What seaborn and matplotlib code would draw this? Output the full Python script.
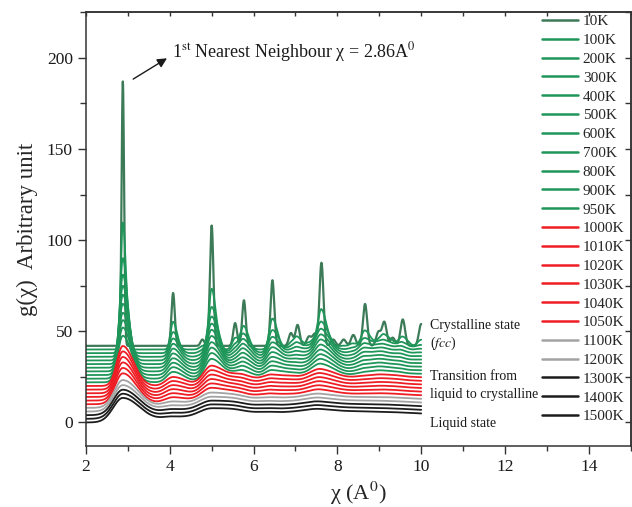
import numpy as np
import pandas as pd
import matplotlib
matplotlib.use("Agg")
import matplotlib.pyplot as plt
from matplotlib.lines import Line2D
from matplotlib.ticker import MultipleLocator
import seaborn as sns

# ---------------- data ----------------
temps = ["10K", "100K", "200K", "300K", "400K", "500K", "600K", "700K", "800K",
         "900K", "950K", "1000K", "1010K", "1020K", "1030K", "1040K", "1050K",
         "1100K", "1200K", "1300K", "1400K", "1500K"]
# vertical shift of every curve (baseline at small distance)
offsets = [42, 40, 38, 36, 34, 32, 30, 28, 26, 24, 22,
           20, 18, 16, 14, 12, 10, 8, 6, 4, 2, 0]
# thermal broadening (A) of each curve, read from its first-peak height
broadening = [0.0, 0.07, 0.10, 0.118, 0.131, 0.142, 0.155, 0.17, 0.182, 0.196, 0.216,
              0.253, 0.265, 0.279, 0.294, 0.311, 0.329,
              0.366, 0.386, 0.40, 0.406, 0.415]
groups = ["10K"] + ["green"] * 10 + ["red"] * 6 + ["gray"] * 2 + ["black"] * 3

# neighbour shells of the 10K (crystalline) curve: position, height above baseline, width
peak_pos = [2.88, 4.08, 4.78, 5.00, 5.56, 5.77, 6.45, 6.89, 7.05, 7.32, 7.46, 7.62,
            7.90, 8.15, 8.38, 8.66, 8.98, 9.12, 9.32, 9.56, 10.00, 10.35, 10.72]
peak_height = [145, 29, 3.5, 66, 12.5, 25, 36, 7, 11.5, 5, 6.5, 45.5,
               3.5, 3.5, 6, 23, 7.5, 13, 4.5, 14.5, 12, 14, 10]
peak_width = [0.030, 0.040, 0.045, 0.042, 0.045, 0.043, 0.045, 0.05, 0.05, 0.055, 0.055, 0.047,
              0.055, 0.055, 0.055, 0.05, 0.055, 0.055, 0.055, 0.055, 0.055, 0.055, 0.055]

r_min, r_max = 2.0, 10.0

# ---------------- build curves ----------------
r = np.linspace(r_min, r_max, 1601)


def curve(s):
    y = np.zeros_like(r)
    for p, h, w in zip(peak_pos, peak_height, peak_width):
        sk = s * (1 + 0.15 * (p - peak_pos[0]))   # farther shells broaden more
        wl = np.sqrt(w ** 2 + (0.55 * sk) ** 2)
        wr = np.sqrt(w ** 2 + sk ** 2)
        amp = h * 2 * w / (wl + wr)
        ww = np.where(r < p, wl, wr)
        y += amp * np.exp(-0.5 * ((r - p) / ww) ** 2)
    return y


frames = []
for t, off, s in zip(temps, offsets, broadening):
    frames.append(pd.DataFrame({"r": r, "g": off + curve(s), "T": t}))
df = pd.concat(frames, ignore_index=True)

group_color = {"10K": "#3d7b58", "green": "#1f9659", "red": "#ee1d24",
               "gray": "#a3a3a3", "black": "#1c1c1c"}
palette = {t: group_color[g] for t, g in zip(temps, groups)}

# ---------------- plot ----------------
sns.set_theme(style="ticks")
plt.rcParams["font.family"] = ["Liberation Serif", "DejaVu Serif"]
plt.rcParams["mathtext.fontset"] = "stix"

fig = plt.figure(figsize=(6.32, 5.07), dpi=100)
ax = fig.add_axes([0.136, 0.120, 0.862, 0.856])

sns.lineplot(data=df, x="r", y="g", hue="T", hue_order=temps, palette=palette,
             estimator=None, sort=False, legend=False, linewidth=1.3, ax=ax)
ax.lines[0].set_linewidth(1.6)

ax.set_xlim(2, 15)
ax.set_ylim(-13, 225)
ax.xaxis.set_major_locator(MultipleLocator(2))
ax.xaxis.set_minor_locator(MultipleLocator(1))
ax.yaxis.set_major_locator(MultipleLocator(50))
ax.yaxis.set_minor_locator(MultipleLocator(25))
ax.tick_params(axis="both", which="major", direction="out", length=6, width=1.0,
               labelsize=12.5, color="#333333", labelcolor="#1a1a1a")
ax.tick_params(axis="both", which="minor", direction="out", length=3.5, width=1.0,
               color="#333333")
ax.tick_params(axis="y", which="minor", length=4.5)
for sp in ax.spines.values():
    sp.set_linewidth(1.1)
    sp.set_color("#333333")

# mirrored inward ticks on the top and right
top = ax.secondary_xaxis("top")
top.set_xticks(np.arange(2, 16, 1))
top.tick_params(direction="in", length=3, width=1.0, labeltop=False, color="#333333")
right = ax.secondary_yaxis("right")
right.set_yticks(np.arange(0, 226, 25))
right.tick_params(direction="in", length=4, width=1.0, labelright=False, color="#333333")
for sec in (top, right):
    for sp in sec.spines.values():
        sp.set_linewidth(1.1)
        sp.set_color("#333333")

ax.set_xlabel(r"χ (A$^0$)", fontsize=16, labelpad=3)
ax.set_ylabel("g(χ)  Arbitrary unit", fontsize=16.5, labelpad=6)

ax.text(4.05, 203, r"1$^{\rm st}$ Nearest Neighbour χ = 2.86A$^0$",
        fontsize=13, va="center", ha="left", color="#1a1a1a")
ax.annotate("", xy=(3.99, 200.5), xytext=(3.07, 187.5),
            arrowprops=dict(arrowstyle="-|>", color="#1a1a1a", lw=1.0, mutation_scale=14))

lab = dict(fontsize=10, ha="left", va="center", color="#1a1a1a")
ax.text(10.2, 53, "Crystalline state", **lab)
ax.text(10.2, 43.5, r"($\mathit{fcc}$)", **lab)
ax.text(10.2, 25, "Transition from", **lab)
ax.text(10.2, 15.4, "liquid to crystalline", **lab)
ax.text(10.2, -0.7, "Liquid state", **lab)

handles = [Line2D([0], [0], color=palette[t], lw=1.8) for t in temps]
ax.legend(handles, temps, loc="upper left", bbox_to_anchor=(0.857, 0.971),
          bbox_transform=fig.transFigure, frameon=False, fontsize=11,
          handlelength=2.35, handletextpad=0.35, labelspacing=0.335, borderpad=0,
          borderaxespad=0)

fig.savefig("out.png", dpi=100)
